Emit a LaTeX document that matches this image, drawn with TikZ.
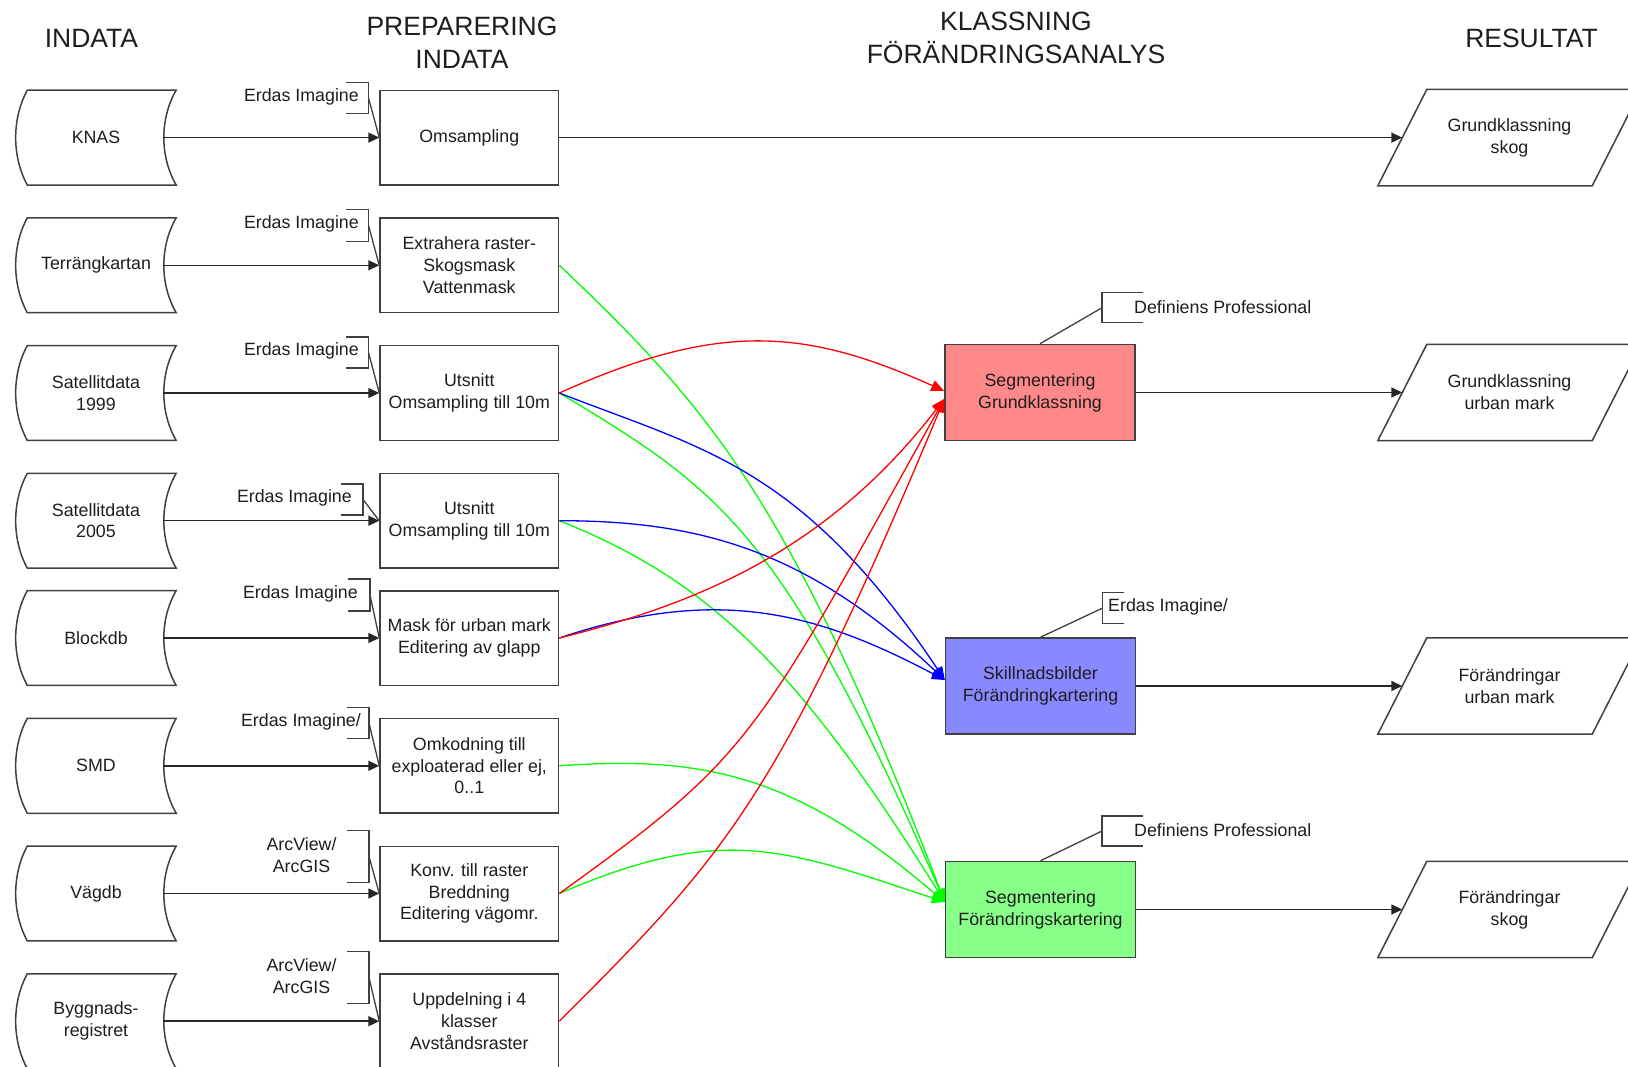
\documentclass[tikz,border=0pt]{standalone}
\usepackage{fontspec}
\setmainfont{Liberation Sans}
\usetikzlibrary{arrows.meta,calc}
\definecolor{boxred}{HTML}{FF8888}
\definecolor{boxblue}{HTML}{8888FF}
\definecolor{boxgreen}{HTML}{88FF88}
\definecolor{edgec}{HTML}{404040}
\definecolor{txt}{HTML}{1E1E1E}
\newcommand\leftbrk[4]{%
  \coordinate (#1) at (#2,#3);
  \draw[annot] ($(#1)+(-22.5,-#4)$) -- ($(#1)+(0,-#4)$) -- ($(#1)+(0,#4)$) -- ($(#1)+(-22.5,#4)$);}
\newcommand\rightbrk[5]{%
  \coordinate (#1) at (#2,#3);
  \draw[annot] ($(#1)+(#5,-#4)$) -- ($(#1)+(0,-#4)$) -- ($(#1)+(0,#4)$) -- ($(#1)+(#5,#4)$);}
\begin{document}
\begin{tikzpicture}[x=1pt,y=-1pt,
  every node/.style={font=\fontsize{17.8}{21.8}\selectfont, text=txt, inner sep=0pt},
  hdr/.style={font=\fontsize{26.5}{33}\selectfont, align=center},
  procbox/.style={draw=edgec, line width=1.5pt, minimum width=178.6pt, minimum height=94.5pt, align=center},
  datatext/.style={minimum width=134pt, minimum height=94.5pt, align=center},
  restext/.style={minimum width=214pt, minimum height=96pt, align=center},
  colbox/.style={draw=edgec, line width=1.5pt, minimum width=190pt, minimum height=96pt, align=center},
  outl/.style={draw=edgec, line width=1.5pt},
  annot/.style={draw=edgec, line width=1.3pt},
  blk/.style={draw=black!85, line width=1.5pt, -{Triangle[length=11pt,width=10pt]}},
  redc/.style={draw=red, line width=1.3pt, -{Triangle[length=13pt,width=11pt]}},
  bluec/.style={draw=blue, line width=1.3pt, -{Triangle[length=13pt,width=11pt]}},
  greenc/.style={draw=green, line width=1.3pt, -{Triangle[length=13pt,width=11pt]}}]
\path[use as bounding box] (0,0) rectangle (1628,1067);
\clip (0,0) rectangle (1628,1067);
\fill[white] (0,0) rectangle (1628,1067);

% headers
\node[hdr] (h1) at (91.4,38.4) {INDATA};
\node[hdr] (h2) at (462,42.5) {PREPARERING\\INDATA};
\node[hdr] (h3) at (1016,37.4) {KLASSNING\\FÖRÄNDRINGSANALYS};
\node[hdr] (h4) at (1531.5,38.4) {RESULTAT};

% input data
\node[datatext] (d1) at (96,137.6) {KNAS};
\node[datatext] (d2) at (96,265.3) {Terrängkartan};
\node[datatext] (d3) at (96,393) {Satellitdata\\1999};
\node[datatext] (d4) at (96,520.7) {Satellitdata\\2005};
\node[datatext] (d5) at (96,638) {Blockdb};
\node[datatext] (d6) at (96,765.8) {SMD};
\node[datatext] (d7) at (96,893.5) {Vägdb};
\node[datatext] (d8) at (96,1021.2) {Byggnads-\\registret};
\foreach \n in {d1,d2,d3,d4,d5,d6,d7,d8}{
  \draw[outl] ($(\n.north west)+(-1.5,0)$) -- ($(\n.north east)+(13,0)$)
    .. controls ($(\n.east)+(-3.5,-19)$) and ($(\n.east)+(-3.5,19)$) .. ($(\n.south east)+(13,0)$)
    -- ($(\n.south west)+(-1.5,0)$)
    .. controls ($(\n.west)+(-17,19)$) and ($(\n.west)+(-17,-19)$) .. ($(\n.north west)+(-1.5,0)$) -- cycle;
}

% preparation boxes
\node[procbox] (p1) at (469.3,137.6) {Omsampling};
\node[procbox] (p2) at (469.3,265.3) {Extrahera raster-\\Skogsmask\\Vattenmask};
\node[procbox] (p3) at (469.3,393) {Utsnitt\\Omsampling till 10m};
\node[procbox] (p4) at (469.3,520.7) {Utsnitt\\Omsampling till 10m};
\node[procbox] (p5) at (469.3,638) {Mask för urban mark\\Editering av glapp};
\node[procbox] (p6) at (469.3,765.8) {Omkodning till\\exploaterad eller ej,\\0..1};
\node[procbox] (p7) at (469.3,893.5) {Konv. till raster\\Breddning\\Editering vägomr.};
\node[procbox] (p8) at (469.3,1021.2) {Uppdelning i 4\\klasser\\Avståndsraster};

% tool annotations (left)
\node[anchor=east] (t1) at (359,96.5) {Erdas Imagine};
\node[anchor=east] (t2) at (359,224) {Erdas Imagine};
\node[anchor=east] (t3) at (359,351) {Erdas Imagine};
\node[anchor=east] (t4) at (352,497.5) {Erdas Imagine};
\node[anchor=east] (t5) at (358,594) {Erdas Imagine};
\node[anchor=east] (t6) at (361,721.5) {Erdas Imagine/};
\node[align=center] (t7) at (301.5,855.4) {ArcView/\\ArcGIS};
\node[align=center] (t8) at (301.5,976) {ArcView/\\ArcGIS};
\leftbrk{b1}{368.5}{98}{15.3}
\leftbrk{b2}{368.5}{225.5}{16}
\leftbrk{b3}{368.5}{352.5}{15.5}
\leftbrk{b4}{363}{499.5}{15.5}
\leftbrk{b5}{370}{595}{16}
\leftbrk{b6}{369}{723}{15.5}
\leftbrk{b7}{369}{856.5}{26}
\leftbrk{b8}{369}{977.5}{26}
\draw[annot] (b1) -- (p1.west);
\draw[annot] (b2) -- (p2.west);
\draw[annot] (b3) -- (p3.west);
\draw[annot] (b4) -- (p4.west);
\draw[annot] (b5) -- (p5.west);
\draw[annot] (b6) -- (p6.west);
\draw[annot] (b7) -- (p7.west);
\draw[annot] (b8) -- (p8.west);

% input arrows
\draw[blk] (d1.east) -- (p1.west);
\draw[blk] (d2.east) -- (p2.west);
\draw[blk] (d3.east) -- (p3.west);
\draw[blk] (d4.east) -- (p4.west);
\draw[blk] (d5.east) -- (p5.west);
\draw[blk] (d6.east) -- (p6.west);
\draw[blk] (d7.east) -- (p7.west);
\draw[blk] (d8.east) -- (p8.west);

% classification boxes
\node[colbox, fill=boxred] (red) at (1040,392.5) {Segmentering\\Grundklassning};
\node[colbox, fill=boxblue] (blue) at (1040.5,686) {Skillnadsbilder\\Förändringkartering};
\node[colbox, fill=boxgreen] (green) at (1040.5,909.5) {Segmentering\\Förändringskartering};

\rightbrk{c1}{1102}{307.7}{15}{41}
\rightbrk{c2}{1102.7}{608}{15.2}{21.5}
\rightbrk{c3}{1102}{831}{15}{41}
\node[anchor=west] (u1) at (1134,306.7) {Definiens Professional};
\node[anchor=west] (u2) at (1108,607) {Erdas Imagine/};
\node[anchor=west] (u3) at (1134,830.6) {Definiens Professional};
\draw[annot] (c1) -- (red.north);
\draw[annot] (c2) -- (blue.north);
\draw[annot] (c3) -- (green.north);

% results
\node[restext] (q1) at (1509.5,137.6) {Grundklassning\\skog};
\node[restext] (q2) at (1509.5,392.5) {Grundklassning\\urban mark};
\node[restext] (q3) at (1509.5,686) {Förändringar\\urban mark};
\node[restext] (q4) at (1509.5,909.5) {Förändringar\\skog};
\foreach \n in {q1,q2,q3,q4}{
  \draw[outl] ($(\n.south west)+(-24.5,0)$) -- ($(\n.north west)+(24.5,0)$) -- ($(\n.north east)+(24.5,0)$) -- ($(\n.south east)+(-24.5,0)$) -- cycle;
}
\draw[blk] (p1.east) -- (q1.west);
\draw[blk] (red.east) -- (q2.west);
\draw[blk] (blue.east) -- (q3.west);
\draw[blk] (green.east) -- (q4.west);

% coloured connectors
\draw[greenc] (p2.east) .. controls +(153,145) and +(-153,-398) .. ($(green.west)+(0,-7.5)$);
\draw[greenc] (p3.east) .. controls +(161,96.5) and +(-161,-370) .. ($(green.west)+(0,-7.5)$);
\draw[greenc] (p4.east) .. controls +(148,59) and +(-148,-237) .. ($(green.west)+(0,-7.5)$);
\draw[greenc] (p6.east) .. controls +(148,-10.4) and +(-148,-126) .. ($(green.west)+(0,-7.5)$);
\draw[greenc] (p7.east) .. controls +(163,-70) and +(-163,-54) .. ($(green.west)+(0,-7.5)$);

\draw[bluec] (p3.east) .. controls +(143,56) and +(-143,-214.5) .. ($(blue.west)+(0,-6)$);
\draw[bluec] (p4.east) .. controls +(138,0) and +(-138,-131) .. ($(blue.west)+(0,-6)$);
\draw[bluec] (p5.east) .. controls +(160,-54) and +(-125,-66) .. ($(blue.west)+(0,-6)$);

\draw[redc] (p3.east) .. controls +(160,-72) and +(-139,-62.6) .. ($(red.west)+(0,-1.5)$);
\draw[redc] (p5.east) .. controls +(123,-31) and +(-123,160) .. ($(red.west)+(0,6.5)$);
\draw[redc] (p7.east) .. controls +(191,-137.5) and +(-191,344) .. ($(red.west)+(0,6.5)$);
\draw[redc] (p8.east) .. controls +(168,-168) and +(-168,402) .. ($(red.west)+(0,6.5)$);
\end{tikzpicture}
\end{document}
